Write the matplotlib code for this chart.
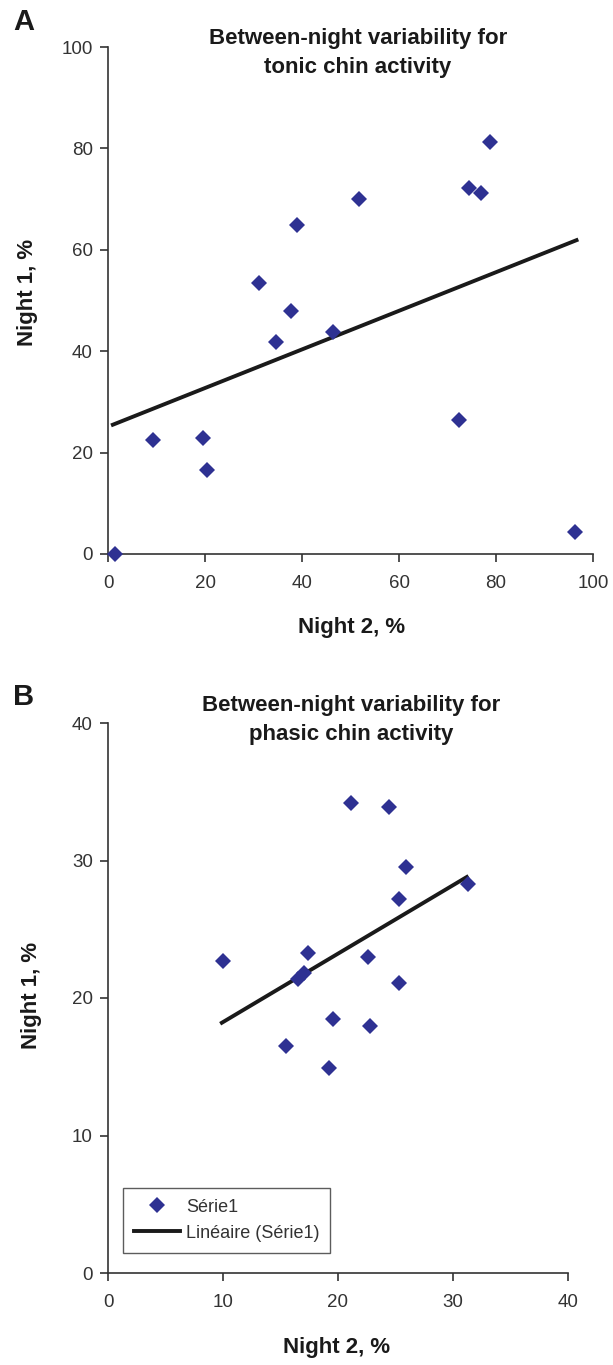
import matplotlib
matplotlib.use('Agg')
import matplotlib.pyplot as plt
from matplotlib.lines import Line2D

# panel A: tonic chin activity
tonic_night2 = [1.4, 9.25, 19.5, 20.45, 31.1, 34.7, 37.7, 39.0, 46.3, 51.8,
                72.3, 74.4, 76.9, 78.7, 96.3]
tonic_night1 = [0.0, 22.4, 22.9, 16.5, 53.5, 41.8, 48.0, 64.9, 43.8, 70.0,
                26.4, 72.1, 71.3, 81.2, 4.3]
tonic_trend_x = [1.0, 96.6]
tonic_trend_y = [25.5, 61.9]

# panel B: phasic chin activity
phasic_night2 = [10.0, 15.5, 16.5, 17.0, 17.4, 19.2, 19.6, 21.1, 22.6, 22.8,
                 24.4, 25.3, 25.3, 25.95, 31.3]
phasic_night1 = [22.7, 16.5, 21.4, 21.8, 23.3, 14.9, 18.5, 34.2, 23.0, 18.0,
                 33.9, 27.2, 21.1, 29.5, 28.3]
phasic_trend_x = [9.9, 31.2]
phasic_trend_y = [18.2, 28.8]

ticks_a = [0, 20, 40, 60, 80, 100]
ticks_b = [0, 10, 20, 30, 40]

plt.rcParams['font.family'] = ['Liberation Sans', 'DejaVu Sans']

BLUE = '#2e3192'
DARK = '#333333'
INK = '#1a1a1a'
W, H = 613, 1365


def style_axes(ax, ticks):
    for s in ('top', 'right'):
        ax.spines[s].set_visible(False)
    for s in ('left', 'bottom'):
        ax.spines[s].set_color(DARK)
        ax.spines[s].set_linewidth(1.2)
    ax.set_xlim(ticks[0], ticks[-1])
    ax.set_ylim(ticks[0], ticks[-1])
    ax.set_xticks(ticks)
    ax.set_yticks(ticks)
    ax.tick_params(axis='both', direction='out', length=6, width=1.2,
                   color=DARK, labelcolor=DARK, labelsize=13.5)
    ax.tick_params(axis='y', pad=5)
    ax.tick_params(axis='x', pad=9)


def fx(px):
    return px / W


def fy(py):
    return 1 - py / H


fig = plt.figure(figsize=(W / 100, H / 100), dpi=100)

# ---- panel A
axA = fig.add_axes([fx(108), fy(554), 485 / W, 507 / H])
style_axes(axA, ticks_a)
axA.plot(tonic_trend_x, tonic_trend_y, color=INK, lw=2.8, zorder=2)
axA.plot(tonic_night2, tonic_night1, 'D', color=BLUE, ms=8.5, mew=0,
         clip_on=False, zorder=3)

fig.text(fx(24), fy(22), 'A', fontsize=21, fontweight='bold',
         ha='center', va='center', color=INK)
fig.text(fx(358), fy(53), 'Between-night variability for\ntonic chin activity',
         fontsize=16, fontweight='bold', ha='center', va='center',
         linespacing=1.45, color=INK)
fig.text(fx(352), fy(628), 'Night 2, %', fontsize=16, fontweight='bold',
         ha='center', va='center', color=INK)
fig.text(fx(28), fy(292), 'Night 1, %', fontsize=16, fontweight='bold',
         ha='center', va='center', rotation=90, color=INK)

# ---- panel B
axB = fig.add_axes([fx(108), fy(1273), 460 / W, 550 / H])
style_axes(axB, ticks_b)
axB.plot(phasic_trend_x, phasic_trend_y, color=INK, lw=2.8, zorder=2)
axB.plot(phasic_night2, phasic_night1, 'D', color=BLUE, ms=8.5, mew=0,
         clip_on=False, zorder=3)

fig.text(fx(24), fy(697), 'B', fontsize=21, fontweight='bold',
         ha='center', va='center', color=INK)
fig.text(fx(351), fy(720), 'Between-night variability for\nphasic chin activity',
         fontsize=16, fontweight='bold', ha='center', va='center',
         linespacing=1.45, color=INK)
fig.text(fx(337), fy(1347), 'Night 2, %', fontsize=16, fontweight='bold',
         ha='center', va='center', color=INK)
fig.text(fx(31), fy(995), 'Night 1, %', fontsize=16, fontweight='bold',
         ha='center', va='center', rotation=90, color=INK)

handles = [Line2D([], [], marker='D', ls='none', color=BLUE, ms=8, mew=0),
           Line2D([], [], color=INK, lw=2.8)]
leg = axB.legend(handles, ['Série1', 'Linéaire (Série1)'], loc='lower left',
                 bbox_to_anchor=(0.032, 0.037), borderaxespad=0,
                 fontsize=13, frameon=True, fancybox=False,
                 handlelength=2.6, handletextpad=0.3, borderpad=0.6,
                 labelspacing=0.5, labelcolor=DARK)
leg.get_frame().set_edgecolor(DARK)
leg.get_frame().set_linewidth(1.0)

fig.savefig('out.png', dpi=100)
